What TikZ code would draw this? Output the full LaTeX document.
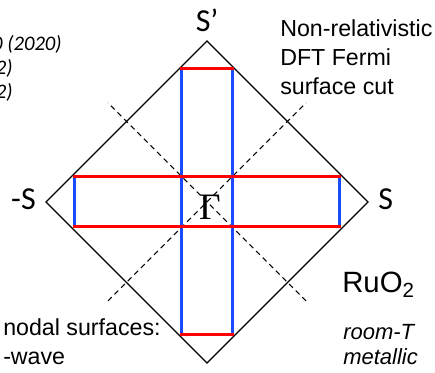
\documentclass[tikz,border=0pt]{standalone}
\usepackage{fontspec}
\setmainfont{Liberation Sans}
\newfontfamily\calfont{Carlito}
\newfontfamily\serfont{Liberation Serif}
\definecolor{bandred}{HTML}{FF0000}
\definecolor{bandblue}{HTML}{1A4BFF}

\begin{document}
\begin{tikzpicture}[x=.75pt,y=.75pt,
  band/.style={line width=2.25pt,line cap=rect},
  label/.style={inner sep=0pt,font=\fontsize{17.4}{21.75}\selectfont,align=left}]
\useasboundingbox (-207,-171) rectangle (228,202);
% zone boundary and nodal lines
\draw[line width=.9pt] (0,161) -- (161,0) -- (0,-161) -- (-161,0) -- cycle;
\foreach \s in {1,-1}
	\draw[line width=.8pt,dash pattern=on 4pt off 3pt] (-99*\s,-99) -- (99*\s,99);
% Fermi surface cut
\foreach \w/\h in {132/25,25.5/133}
	\draw[band,bandblue] (-\w,-\h) -- (-\w,\h) (\w,-\h) -- (\w,\h);
\foreach \w/\h in {132/25,25.5/133}
	\draw[band,bandred] (-\w,-\h) -- (\w,-\h) (-\w,\h) -- (\w,\h);
\node[inner sep=0pt,font=\serfont\fontsize{28}{28}\selectfont] (gam) at (3,-5.5) {Γ};
% points
\node[inner sep=0pt,anchor=base,font=\calfont\fontsize{24}{24}\selectfont] (sp) at (0,170) {S’};
\node[inner sep=0pt,anchor=base east,font=\calfont\fontsize{24}{24}\selectfont] (sm) at (-171,-8) {-S};
\node[inner sep=0pt,anchor=base west,font=\calfont\fontsize{24}{24}\selectfont] (s) at (171,-8) {S};
% texts (base = last line)
\node[label,anchor=base west] (dft) at (73,107) {Non-relativistic\\DFT Fermi\\surface cut};
\node[label,anchor=base west,font=\fontsize{22}{22}\selectfont] (ruo) at (135,-91) {RuO\textsubscript{2}};
\node[label,anchor=base west,font=\itshape\fontsize{16.5}{18.75}\selectfont] (room) at (136,-163) {room-T\\metallic};
\node[label,anchor=base west] (nod) at (-204,-163) {nodal surfaces:\\-wave};
\foreach \t/\xr [count=\i] in {0 (2020)/-145,2)/-194,2)/-194}
	\node[inner sep=0pt,anchor=base east,font=\calfont\itshape\fontsize{15.5}{15.5}\selectfont] (ref\i) at (\xr,175-24*\i) {\t};
\end{tikzpicture}
\end{document}
